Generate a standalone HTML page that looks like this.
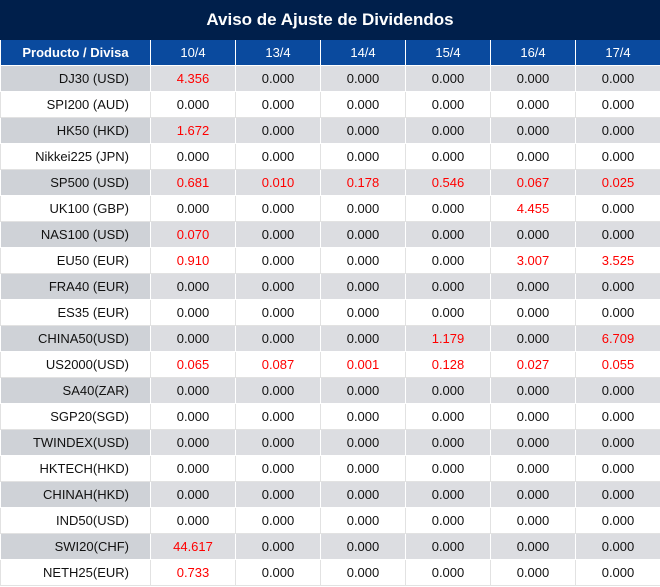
<!DOCTYPE html><html><head><style>
body{margin:0;width:660px;height:587px;background:#fff;font-family:"Liberation Sans",sans-serif;font-size:13px;overflow:hidden}
.t{height:40px;background:#001f4b;color:#fff;font-weight:bold;font-size:17px;text-align:center;line-height:40px}
table{border-collapse:collapse;width:660px;table-layout:fixed}
td,th{height:25px;padding:0;text-align:center;border:1px solid #e2e2e2;border-top:0;color:#111}
th{background:#0a4a9e;color:#fff;font-weight:normal;border:1px solid #fff;border-top:0;height:25px}
th:first-child{font-weight:bold}
td:first-child{text-align:right;padding-right:21px}
tr.g td{background:#dcdde1;border-color:#fff}
tr.g td:first-child{background:#cfd2d7}
.r{color:#f00}
</style></head><body>
<div class="t">Aviso de Ajuste de Dividendos</div>
<table>
<colgroup><col style="width:150px"><col style="width:85px"><col style="width:85px"><col style="width:85px"><col style="width:85px"><col style="width:85px"><col style="width:85px"></colgroup>
<tr><th>Producto / Divisa</th><th>10/4</th><th>13/4</th><th>14/4</th><th>15/4</th><th>16/4</th><th>17/4</th></tr>
<tr class="g"><td>DJ30 (USD)</td><td class="r">4.356</td><td>0.000</td><td>0.000</td><td>0.000</td><td>0.000</td><td>0.000</td></tr>
<tr><td>SPI200 (AUD)</td><td>0.000</td><td>0.000</td><td>0.000</td><td>0.000</td><td>0.000</td><td>0.000</td></tr>
<tr class="g"><td>HK50 (HKD)</td><td class="r">1.672</td><td>0.000</td><td>0.000</td><td>0.000</td><td>0.000</td><td>0.000</td></tr>
<tr><td>Nikkei225 (JPN)</td><td>0.000</td><td>0.000</td><td>0.000</td><td>0.000</td><td>0.000</td><td>0.000</td></tr>
<tr class="g"><td>SP500 (USD)</td><td class="r">0.681</td><td class="r">0.010</td><td class="r">0.178</td><td class="r">0.546</td><td class="r">0.067</td><td class="r">0.025</td></tr>
<tr><td>UK100 (GBP)</td><td>0.000</td><td>0.000</td><td>0.000</td><td>0.000</td><td class="r">4.455</td><td>0.000</td></tr>
<tr class="g"><td>NAS100 (USD)</td><td class="r">0.070</td><td>0.000</td><td>0.000</td><td>0.000</td><td>0.000</td><td>0.000</td></tr>
<tr><td>EU50 (EUR)</td><td class="r">0.910</td><td>0.000</td><td>0.000</td><td>0.000</td><td class="r">3.007</td><td class="r">3.525</td></tr>
<tr class="g"><td>FRA40 (EUR)</td><td>0.000</td><td>0.000</td><td>0.000</td><td>0.000</td><td>0.000</td><td>0.000</td></tr>
<tr><td>ES35 (EUR)</td><td>0.000</td><td>0.000</td><td>0.000</td><td>0.000</td><td>0.000</td><td>0.000</td></tr>
<tr class="g"><td>CHINA50(USD)</td><td>0.000</td><td>0.000</td><td>0.000</td><td class="r">1.179</td><td>0.000</td><td class="r">6.709</td></tr>
<tr><td>US2000(USD)</td><td class="r">0.065</td><td class="r">0.087</td><td class="r">0.001</td><td class="r">0.128</td><td class="r">0.027</td><td class="r">0.055</td></tr>
<tr class="g"><td>SA40(ZAR)</td><td>0.000</td><td>0.000</td><td>0.000</td><td>0.000</td><td>0.000</td><td>0.000</td></tr>
<tr><td>SGP20(SGD)</td><td>0.000</td><td>0.000</td><td>0.000</td><td>0.000</td><td>0.000</td><td>0.000</td></tr>
<tr class="g"><td>TWINDEX(USD)</td><td>0.000</td><td>0.000</td><td>0.000</td><td>0.000</td><td>0.000</td><td>0.000</td></tr>
<tr><td>HKTECH(HKD)</td><td>0.000</td><td>0.000</td><td>0.000</td><td>0.000</td><td>0.000</td><td>0.000</td></tr>
<tr class="g"><td>CHINAH(HKD)</td><td>0.000</td><td>0.000</td><td>0.000</td><td>0.000</td><td>0.000</td><td>0.000</td></tr>
<tr><td>IND50(USD)</td><td>0.000</td><td>0.000</td><td>0.000</td><td>0.000</td><td>0.000</td><td>0.000</td></tr>
<tr class="g"><td>SWI20(CHF)</td><td class="r">44.617</td><td>0.000</td><td>0.000</td><td>0.000</td><td>0.000</td><td>0.000</td></tr>
<tr><td>NETH25(EUR)</td><td class="r">0.733</td><td>0.000</td><td>0.000</td><td>0.000</td><td>0.000</td><td>0.000</td></tr>
</table></body></html>
